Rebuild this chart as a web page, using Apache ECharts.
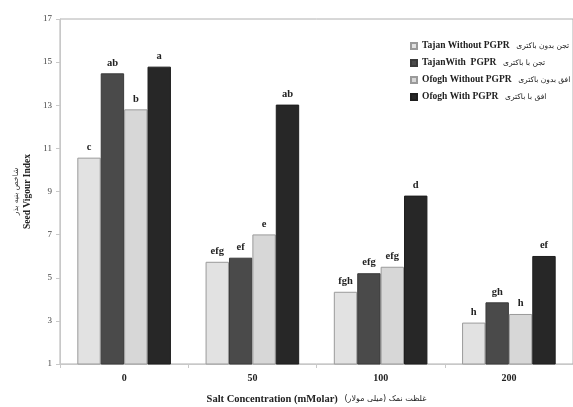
<!DOCTYPE html>
<html><head><meta charset="utf-8">
<script src="https://cdn.jsdelivr.net/npm/echarts@6/dist/echarts.min.js"></script>
<style>html,body{margin:0;padding:0;background:#fff}#c{width:573px;height:407px}</style>
</head><body><div id="c"></div>
<script>
const categories = ['0', '50', '100', '200'];
const seriesNames = ['Tajan Without PGPR', 'TajanWith  PGPR', 'Ofogh Without PGPR', 'Ofogh With PGPR'];
const seriesNamesFa = ['تجن بدون باکتری', 'تجن با باکتری', 'افق بدون باکتری', 'افق با باکتری'];
const tajanWithout = [10.57, 5.74, 4.35, 2.92];
const tajanWith = [14.48, 5.93, 5.21, 3.86];
const ofoghWithout = [12.81, 7.01, 5.51, 3.32];
const ofoghWith = [14.79, 13.03, 8.81, 6.01];
const letters = [
  ['c', 'efg', 'fgh', 'h'],
  ['ab', 'ef', 'efg', 'gh'],
  ['b', 'e', 'efg', 'h'],
  ['a', 'ab', 'd', 'ef']
];
const yTicks = [1, 3, 5, 7, 9, 11, 13, 15, 17];
const yTitleFa = 'شاخص بنیه بذر';
const yTitleEn = 'Seed Vigour Index';
const xTitleEn = 'Salt Concentration (mMolar)';
const xTitleFa = 'غلظت نمک (میلی مولار)';

const FONT = "'Liberation Serif', 'DejaVu Sans', serif";
const FA_FONT = "'DejaVu Sans', 'Noto Sans', sans-serif";
const colors = ['#e2e2e2', '#4a4a4a', '#d7d7d7', '#272727'];
const borders = ['#9a9a9a', '#3a3a3a', '#9a9a9a', '#1e1e1e'];
const values = [tajanWithout, tajanWith, ofoghWithout, ofoghWith];

const chart = echarts.init(document.getElementById('c'), null, {renderer: 'canvas'});
chart.setOption({
  animation: false,
  backgroundColor: '#fff',
  grid: {left: 60, right: 0, top: 19, bottom: 43, show: true, borderColor: '#b0b0b0', borderWidth: 1,
         containLabel: false, outerBoundsMode: 'none'},
  legend: {
    orient: 'vertical', left: 405, top: 35, itemWidth: 6, itemHeight: 6, itemGap: 5,
    icon: 'rect',
    data: seriesNames,
    formatter: function (n) { return '{en|' + n + '}  {fa|' + seriesNamesFa[seriesNames.indexOf(n)] + '}'; },
    textStyle: {
      rich: {
        en: {fontFamily: FONT, fontWeight: 'bold', fontSize: 9.5, color: '#222', lineHeight: 12},
        fa: {fontFamily: FA_FONT, fontSize: 7.5, color: '#222', lineHeight: 12}
      }
    }
  },
  xAxis: {
    type: 'category', data: categories,
    axisLine: {lineStyle: {color: '#c8c8c8'}},
    axisTick: {show: true, length: 4, lineStyle: {color: '#c8c8c8'}},
    axisLabel: {fontFamily: FONT, fontWeight: 'bold', fontSize: 10, color: '#222', margin: 9},
    name: '{en|' + xTitleEn + '}  {fa|' + xTitleFa + '}', nameLocation: 'middle', nameGap: 29,
    nameTextStyle: {
      rich: {
        en: {fontFamily: FONT, fontWeight: 'bold', fontSize: 10.5, color: '#222'},
        fa: {fontFamily: FA_FONT, fontSize: 8, color: '#222'}
      }
    }
  },
  yAxis: {
    type: 'value', min: yTicks[0], max: yTicks[yTicks.length - 1], interval: 2,
    axisLine: {show: true, lineStyle: {color: '#c8c8c8'}},
    axisTick: {show: true, length: 4, lineStyle: {color: '#c8c8c8'}},
    splitLine: {show: false},
    axisLabel: {fontFamily: FONT, fontSize: 9, color: '#444', margin: 8},
    name: '{fa|' + yTitleFa + '}\n{en|' + yTitleEn + '}',
    nameLocation: 'middle', nameGap: 18, nameRotate: 90,
    nameTextStyle: {
      rich: {
        fa: {fontFamily: FA_FONT, fontSize: 7.5, color: '#333', lineHeight: 11},
        en: {fontFamily: FONT, fontSize: 9.5, fontWeight: 'bold', color: '#222', lineHeight: 11}
      }
    }
  },
  series: values.map(function (v, i) {
    return {
      name: seriesNames[i], type: 'bar', data: v,
      barGap: '0%', barCategoryGap: '27%',
      itemStyle: {color: colors[i], borderColor: borders[i], borderWidth: 1},
      label: {
        show: true, position: 'top', distance: 5,
        formatter: function (p) { return letters[i][p.dataIndex]; },
        fontFamily: FONT, fontWeight: 'bold', fontSize: 10.5, color: '#222'
      }
    };
  })
});
</script></body></html>
